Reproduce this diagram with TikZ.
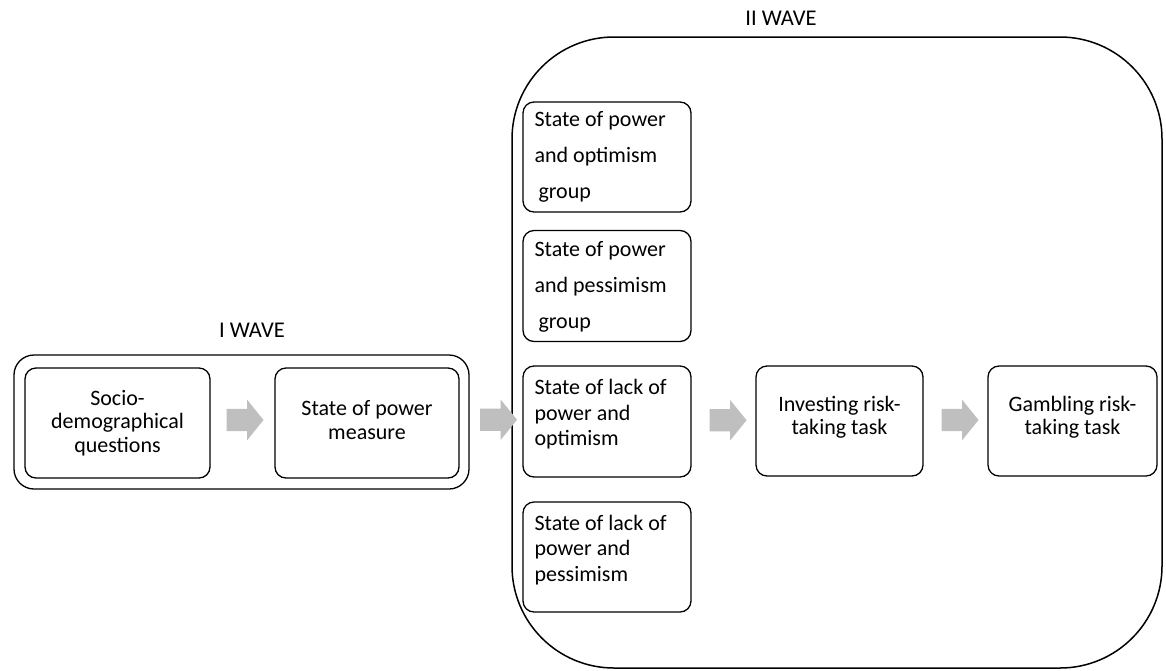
\documentclass[tikz,border=0pt]{standalone}
\usepackage{fontspec}
\setmainfont{Carlito}
\usetikzlibrary{shapes.arrows,calc}
\definecolor{arrowgray}{RGB}{191,191,191}
\begin{document}
\begin{tikzpicture}[x=1pt,y=-1pt,
  box/.style={draw, line width=1.3pt, rounded corners=11pt, inner sep=0pt},
  ctext/.style={align=center, font=\fontsize{22}{23.5}\selectfont},
  gtextwide/.style={align=left, font=\fontsize{22}{36}\selectfont},
  gtext/.style={align=left, font=\fontsize{22}{25.5}\selectfont, inner sep=0pt},
  wave/.style={font=\fontsize{22.5}{26}\selectfont},
  blockarrow/.style={single arrow, fill=arrowgray, draw=none,
    text height=0pt, text depth=0pt, inner xsep=0pt, inner ysep=11pt,
    single arrow head extend=9pt, minimum height=37pt,
    single arrow tip angle=102},
]
\useasboundingbox (0,0) rectangle (1166,670);

% I WAVE
\node[wave] (w1) at (252,330) {I WAVE};
\node[draw, line width=1.3pt, rounded corners=20pt, minimum width=455pt, minimum height=134pt, inner sep=0pt] (outer1) at (241.5,422) {};
\node[box, minimum width=185pt, minimum height=110pt, ctext] (socio) at (117.5,423) {Socio-\\demographical\\questions};
\node[box, minimum width=184pt, minimum height=110pt, ctext] (spm) at (367,423) {};
\node[ctext, inner sep=0pt] (spmt) at ([yshift=3pt]spm.center) {State of power\\measure};

% II WAVE
\node[wave] (w2) at (781,18) {II WAVE};
\node[draw, line width=1.5pt, rounded corners=102pt, minimum width=650pt, minimum height=631pt, inner sep=0pt] (outer2) at (837,352.5) {};

\node[box, minimum width=168pt, minimum height=110pt] (g1) at (607,157) {};
\node[gtextwide, anchor=west, inner sep=0pt] (t1) at ([xshift=12pt]g1.west) {State of power\\and optimism\\\hspace*{4pt}group};
\node[box, minimum width=168pt, minimum height=111pt] (g2) at (607,286) {};
\node[gtextwide, anchor=west, inner sep=0pt] (t2) at ([xshift=12pt,yshift=-1pt]g2.west) {State of power\\and pessimism\\\hspace*{4pt}group};
\node[box, minimum width=168pt, minimum height=111pt] (g3) at (607,421.5) {};
\node[gtext, anchor=west] (t3) at ([xshift=12pt,yshift=7pt]g3.west) {State of lack of\\power and\\optimism};
\node[box, minimum width=168pt, minimum height=110pt] (g4) at (607,557) {};
\node[gtext, anchor=west] (t4) at ([xshift=12pt,yshift=7pt]g4.west) {State of lack of\\power and\\pessimism};

\node[box, minimum width=167pt, minimum height=110pt] (inv) at (839.5,421) {};
\node[ctext, inner sep=0pt] (invt) at ([yshift=4pt]inv.center) {Investing risk-\\taking task};
\node[box, minimum width=169pt, minimum height=110pt] (gam) at (1072.5,421) {};
\node[ctext, inner sep=0pt] (gamt) at ([yshift=4pt]gam.center) {Gambling risk-\\taking task};

% block arrows
\node[blockarrow] (a1) at ($(socio.east)!0.5!(spm.west)+(-2,-3)$) {};
\node[blockarrow] (a2) at ($(outer1.east)!0.5!(g3.west)+(-2,-2)$) {};
\node[blockarrow] (a3) at ($(g3.east)!0.5!(inv.west)+(0,-1)$) {};
\node[blockarrow] (a4) at ($(inv.east)!0.5!(gam.west)+(0,-1)$) {};
\end{tikzpicture}
\end{document}
